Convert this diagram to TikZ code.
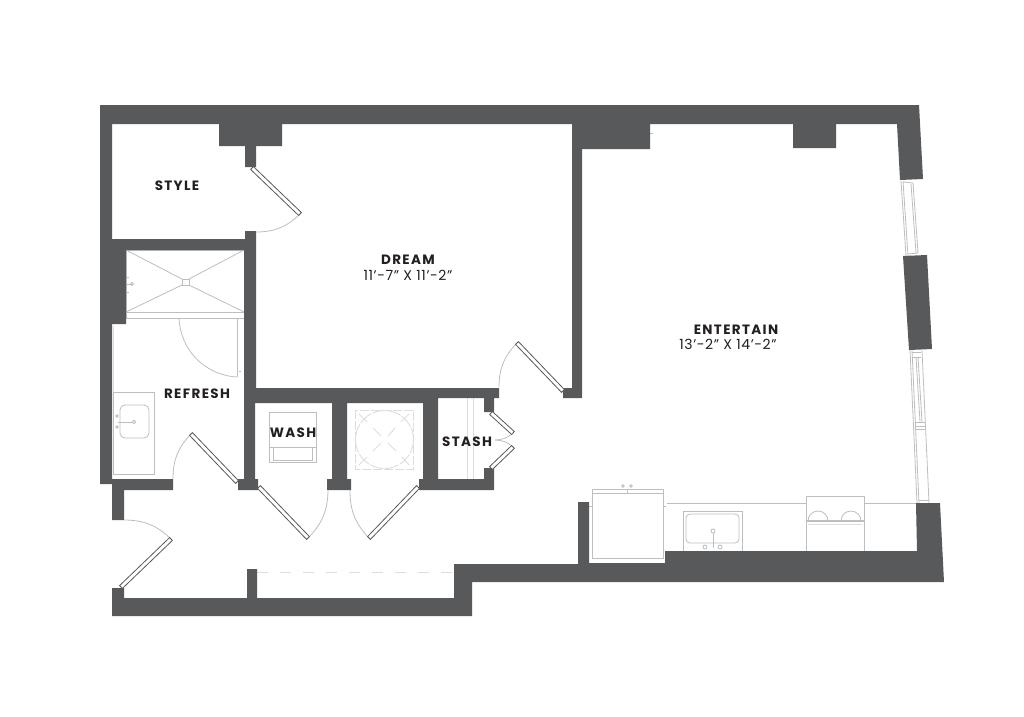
\documentclass[tikz,border=0pt]{standalone}
\usepackage{fontspec}
\setmainfont{Poppins}
\newfontfamily\labelfont[LetterSpace=10]{Poppins}
\newfontfamily\sizefont[LetterSpace=4]{Poppins}
\usetikzlibrary{calc}
\definecolor{wallgrey}{HTML}{58595B}
\definecolor{inkdark}{HTML}{231F20}
\definecolor{fixgrey}{HTML}{BDBEC0}
\definecolor{pale}{HTML}{DCDDDE}
\tikzset{
  wall/.style={fill=wallgrey,draw=none},
  fixture/.style={draw=fixgrey,line width=.8pt},
  faint/.style={draw=pale,line width=.9pt},
  doorleaf/.style={draw=wallgrey,fill=white,line width=.8pt},
  swing/.style={draw=fixgrey,line width=.8pt},
  roomname/.style={font=\labelfont\bfseries\fontsize{13.5}{15}\selectfont,text=inkdark,inner sep=0pt},
  roomsize/.style={font=\sizefont\fontsize{14}{15}\selectfont,text=inkdark,inner sep=0pt}
}
\newcommand{\leaf}[2]{\draw[doorleaf] ($(#1)!2pt!90:(#2)$) -- ($(#2)!2pt!-90:(#1)$) -- ($(#2)!2pt!90:(#1)$) -- ($(#1)!2pt!-90:(#2)$) -- cycle;}
\begin{document}
\begin{tikzpicture}[x=1pt,y=-1pt]
  \useasboundingbox (0,0) rectangle (1024,716);
  \fill[white] (0,0) rectangle (1024,716);

  \draw[fixture] (126,250) rectangle (244,312);
  \draw[fixture] (126,312) -- (126,318) -- (244,318) -- (244,312);
  \draw[fixture] (182,279) rectangle (189,285);
  \draw[fixture] (126,250) -- (182,279) (244,250) -- (189,279) (126,312) -- (182,285) (244,312) -- (189,285);
  \draw[fixture] (126,284) -- (132,284) (126,277) -- (129,277) (126,292) -- (129,292);
  \draw[fixture] (132,284) circle (1.5);
  \draw[fixture] (237,318) -- (237,377) (239,371) -- (241,371);
  \draw[faint] (113,326) -- (113,392);
  \draw[fixture] (113,392) -- (113,474) -- (154,474) -- (154,392) -- (113,392);
  \draw[fixture,rounded corners=5pt] (120,405) rectangle (149,438);
  \draw[fixture] (118,422) -- (132,422);
  \draw[fixture] (134,422) circle (1.7);
  \draw[fixture] (117,416) circle (1.2) (117,427) circle (1.2);

  \draw[fixture] (269,412) rectangle (316,462);
  \draw[fixture] (269,447) -- (316,447);
  \draw[fixture] (273,447) rectangle (312,460);
  \draw[faint,dashed,dash pattern=on 9pt off 2pt] (355,410) rectangle (413,469);
  \draw[faint,dash pattern=on 14pt off 1.5pt] (384.5,439.5) circle (29);
  \draw[faint] (359,414) -- (367,422) (373,428) -- (381,436) (388,443) -- (396,451) (402,457) -- (409,465);
  \draw[faint] (409,414) -- (401,422) (395,428) -- (388,436) (381,443) -- (373,451) (367,457) -- (359,465);
  \draw[faint] (467,398) -- (467,479) (473,398) -- (473,479);
  \draw[faint,dashed,dash pattern=on 11pt off 12pt] (257,572) -- (454,572);

  \draw[fixture] (667,503) -- (806,503) (864,503) -- (916,503);
  \draw[fixture] (592,489) rectangle (663,558);
  \draw[fixture] (592,493) -- (663,493) (627,489) -- (627,493);
  \draw[fixture] (623,486) circle (1.3) (631,486) circle (1.3);
  \draw[fixture] (589,506) -- (592,506) (663,506) -- (666,506);
  \draw[fixture] (650,133) -- (653,133);
  \draw[fixture] (683,551) -- (683,511) -- (742,511) -- (742,551);
  \draw[fixture,rounded corners=4pt] (686,514) rectangle (739,543);
  \draw[fixture] (713,531) circle (2) (705,547) circle (2) (720,547) circle (2);
  \draw[fixture] (713,533) -- (713,548);
  \draw[fixture] (806,551) -- (806,496) -- (864,496) -- (864,551);
  \draw[fixture,line width=1.2pt] (806,521) -- (864,521);
  \draw[faint] (808,524) -- (862,524);
  \draw[fixture] (808,521) arc (180:360:10) (841,521) arc (180:360:10);

  \draw[fixture] (901,181) -- (906,256) (903,181) -- (908,256);
  \draw[fixture] (903,182) -- (913,183) -- (918,253) -- (908,254);
  \draw[fixture] (911,184) -- (916,253);
  \draw[fixture] (910,350) -- (917,503) (912,350) -- (919,503) (922,350) -- (929,503);
  \draw[fixture] (912,352) -- (921,352) (912,357) -- (921,357);
  \draw[fixture] (915,422) -- (925,422) (915,426) -- (925,426) (915,429) -- (925,429);
  \draw[fixture] (916,357) -- (920,422) (918,357) -- (922,422);
  \draw[fixture] (919,500) -- (929,500);

  \fill[wall] (100,105) -- (919,105) -- (923,179) -- (900,180) -- (897,124) -- (836,124) -- (836,148) -- (793,148) -- (793,124)
    -- (650,124) -- (650,149) -- (582,149) -- (582,398) -- (563,398) -- (563,388) -- (572,388) -- (572,124)
    -- (282,124) -- (282,146) -- (256,146) -- (256,167) -- (245,167) -- (245,146) -- (219,146) -- (219,124)
    -- (112,124) -- (112,239) -- (245,239) -- (245,231) -- (256,231) -- (256,388) -- (499,388) -- (499,398)
    -- (494,398) -- (494,412) -- (484,412) -- (484,398) -- (438,398) -- (438,479) -- (484,479) -- (484,468) -- (494,468)
    -- (494,490) -- (419,490) -- (419,479) -- (423,479) -- (423,403) -- (347,403) -- (347,479) -- (351,479) -- (351,490)
    -- (327,490) -- (327,479) -- (332,479) -- (332,403) -- (255,403) -- (255,479) -- (258,479) -- (258,490) -- (238,490)
    -- (238,479) -- (244,479) -- (244,250) -- (126,250) -- (126,324) -- (112,324) -- (112,479) -- (173,479) -- (173,490)
    -- (124,490) -- (124,520) -- (112,520) -- (112,484) -- (100,484) -- cycle;
  \fill[wall] (112,588) -- (124,588) -- (124,598) -- (247,598) -- (247,569) -- (257,569) -- (257,598) -- (454,598) -- (454,564)
    -- (578,564) -- (578,502) -- (589,502) -- (589,563) -- (665,563) -- (665,551) -- (917,551) -- (916,503) -- (940,503)
    -- (944,582) -- (472,582) -- (472,616) -- (112,616) -- cycle;
  \fill[wall] (903,256) -- (927,255) -- (932,349) -- (909,350) -- cycle;

  \coordinate (stylehinge) at (252,168);
  \coordinate (styletip) at (300,214);
  \coordinate (stylejamb) at (256,232);
  \coordinate (showerjamb) at (179,318);
  \coordinate (showertip) at (237,377);
  \coordinate (refreshhinge) at (237,482);
  \coordinate (refreshtip) at (191,434);
  \coordinate (refreshjamb) at (173,479);
  \coordinate (washhinge) at (259,487);
  \coordinate (washtip) at (308,538);
  \coordinate (washjamb) at (328,490);
  \coordinate (utilhinge) at (418,487);
  \coordinate (utiltip) at (369,538);
  \coordinate (utiljamb) at (350,490);
  \coordinate (entryhinge) at (121,587);
  \coordinate (entrytip) at (171,539);
  \coordinate (entryjamb) at (124,520);
  \coordinate (dreamhinge) at (563,391);
  \coordinate (dreamtip) at (517,343);
  \coordinate (dreamjamb) at (499,387);
  \coordinate (stashupper) at (491,413);
  \coordinate (stashuppertip) at (513,433);
  \coordinate (stashlower) at (491,468);
  \coordinate (stashlowertip) at (513,447);
  \coordinate (stashmeet) at (495,440);

  \draw[swing] (styletip) to[bend left=22] (stylejamb);
  \draw[swing] (showerjamb) to[bend right=42] (showertip);
  \draw[swing] (refreshtip) to[bend right=22] (refreshjamb);
  \draw[swing] (washtip) to[bend right=22] (washjamb);
  \draw[swing] (utiltip) to[bend left=22] (utiljamb);
  \draw[swing] (entrytip) to[bend right=22] (entryjamb);
  \draw[swing] (dreamtip) to[bend right=22] (dreamjamb);
  \draw[swing] (stashuppertip) to[bend left=20] (stashmeet);
  \draw[swing] (stashlowertip) to[bend right=20] (stashmeet);

  \leaf{stylehinge}{styletip}
  \leaf{refreshhinge}{refreshtip}
  \leaf{washhinge}{washtip}
  \leaf{utilhinge}{utiltip}
  \leaf{entryhinge}{entrytip}
  \leaf{dreamhinge}{dreamtip}
  \leaf{stashupper}{stashuppertip}
  \leaf{stashlower}{stashlowertip}

  \node[roomname] (style) at (177,186) {STYLE};
  \node[roomname] (dream) at (408,260) {DREAM};
  \node[roomsize] (dreamsize) at (408,275) {11’-7” X 11’-2”};
  \node[roomname] (entertain) at (736,330) {ENTERTAIN};
  \node[roomsize] (entertainsize) at (728,344) {13’-2” X 14’-2”};
  \node[roomname] (refresh) at (197,394) {REFRESH};
  \node[roomname] (wash) at (293,433) {WASH};
  \node[roomname] (stash) at (467,442) {STASH};
\end{tikzpicture}
\end{document}
